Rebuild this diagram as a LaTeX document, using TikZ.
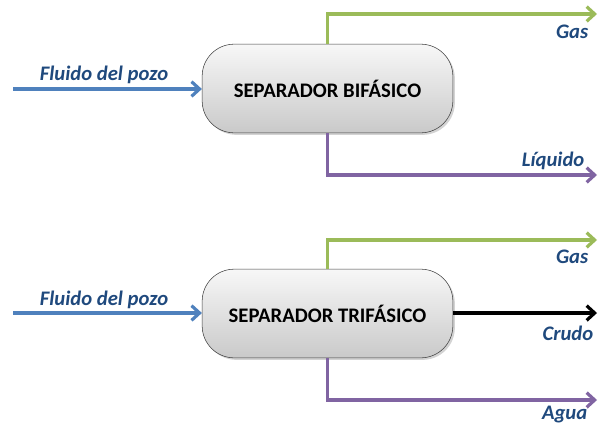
\documentclass[tikz,border=0pt]{standalone}
\usepackage{fontspec}
\setmainfont{Carlito}
\usetikzlibrary{arrows.meta,shadows}
\definecolor{inblue}{RGB}{79,129,189}
\definecolor{gasgreen}{RGB}{155,187,89}
\definecolor{liqpurple}{RGB}{128,100,162}
\definecolor{labelblue}{RGB}{31,73,125}
\tikzset{
  separador/.style={draw=black!75, thin, rounded corners=24pt,
    top color=gray!6, bottom color=gray!42,
    drop shadow={shadow xshift=1.5pt, shadow yshift=-1.5pt, opacity=0.35},
    minimum width=188pt, minimum height=66.5pt,
    font=\fontsize{15.5}{17}\selectfont\bfseries},
  flow/.style={line width=2.6pt, -{Straight Barb[length=6pt, width=11pt, line width=2.4pt]}},
  flowlabel/.style={text=labelblue, font=\fontsize{15.5}{17}\selectfont\bfseries\itshape},
}
\begin{document}
\begin{tikzpicture}[x=0.75pt, y=-0.75pt]
  \useasboundingbox (0,0) rectangle (598,425);
  % Separators
  \node[separador] (bif) at (327.5,88.5) {SEPARADOR BIFÁSICO};
  \node[separador] (tri) at (327.5,313.5) {SEPARADOR TRIFÁSICO};
  % End points
  \coordinate (inA) at (13,89);
  \coordinate (gasA) at (597,14);
  \coordinate (liqA) at (597,175);
  \coordinate (inB) at (13,313);
  \coordinate (gasB) at (597,240);
  \coordinate (crudoB) at (597,313);
  \coordinate (aguaB) at (597,400);
  % Flows
  \draw[flow, inblue] (inA) -- (bif.west |- inA);
  \draw[flow, gasgreen] (bif.north) |- (gasA);
  \draw[flow, liqpurple] (bif.south) |- (liqA);
  \draw[flow, inblue] (inB) -- (tri.west |- inB);
  \draw[flow, gasgreen] (tri.north) |- (gasB);
  \draw[flow, black] (tri.east |- crudoB) -- (crudoB);
  \draw[flow, liqpurple] (tri.south) |- (aguaB);
  % Labels
  \node[flowlabel] (lblinA) at (104,75) {Fluido del pozo};
  \node[flowlabel, anchor=east] (lblgasA) at (593,32) {Gas};
  \node[flowlabel, anchor=east] (lblliqA) at (589,161) {Líquido};
  \node[flowlabel] (lblinB) at (104,300) {Fluido del pozo};
  \node[flowlabel, anchor=east] (lblgasB) at (593,257) {Gas};
  \node[flowlabel, anchor=east] (lblcrudoB) at (598,333) {Crudo};
  \node[flowlabel, anchor=east] (lblaguaB) at (592,415) {Agua};
\end{tikzpicture}
\end{document}
